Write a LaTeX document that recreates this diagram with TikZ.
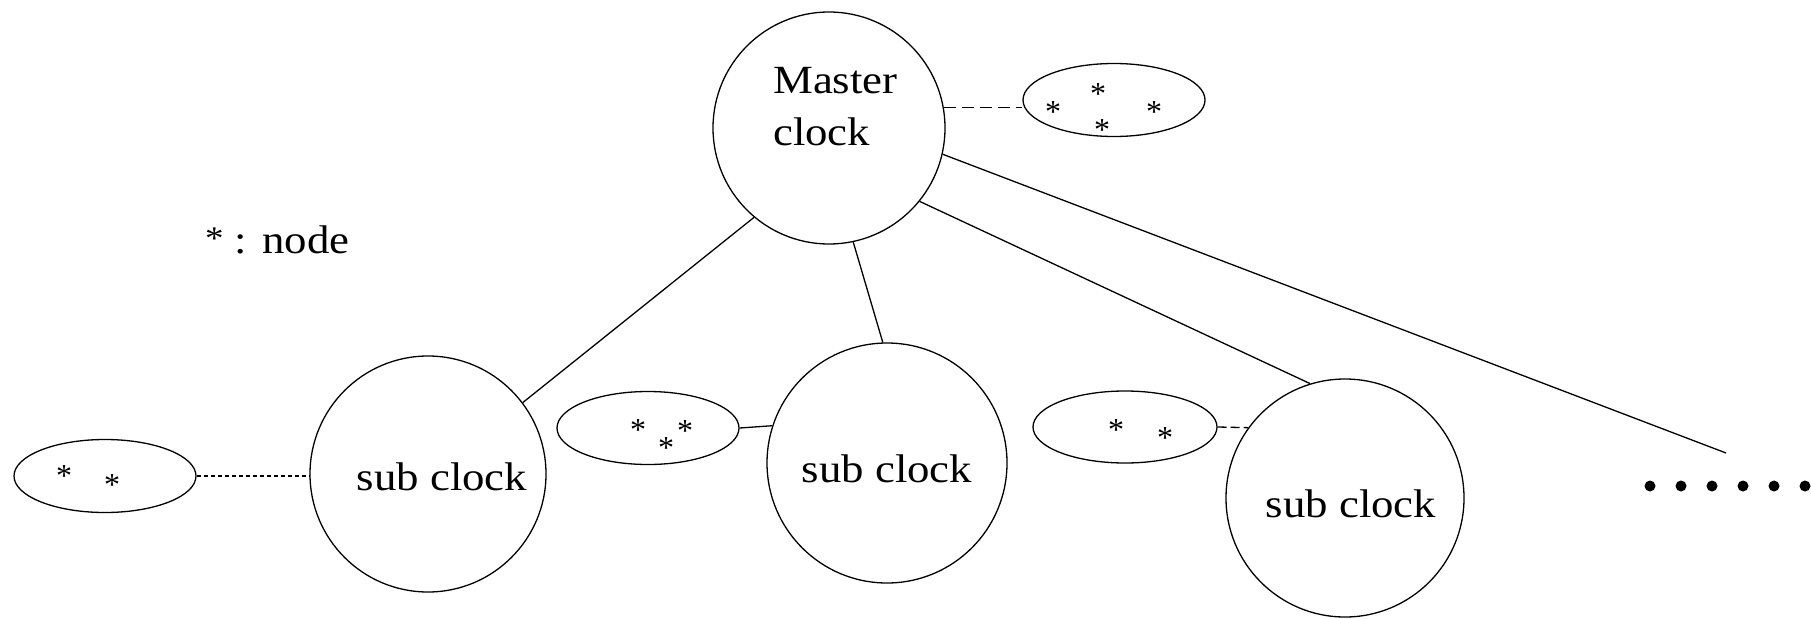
\documentclass[tikz,border=0pt]{standalone}
\usepackage{fontspec}
\setmainfont{Liberation Serif}
\usetikzlibrary{shapes.geometric}
\tikzset{
  clk/.style={draw, circle, line width=1.3pt, inner sep=0pt, minimum size=#1},
  grp/.style={draw, ellipse, line width=1.3pt, inner sep=0pt, minimum width=182pt, minimum height=73pt},
  lnk/.style={line width=1.3pt},
  star/.style={inner sep=0pt, font=\fontsize{32}{32}\selectfont, yshift=-5pt},
  lbl/.style={inner sep=0pt, font=\fontsize{40}{50}\selectfont},
}
\newcommand{\widetxt}[1]{\scalebox{1.12}[1]{#1}}
\begin{document}
\begin{tikzpicture}[x=1pt,y=-1pt]
\useasboundingbox (0,0) rectangle (1811,618);
% clocks
\node[clk=232pt] (M)  at (829,128) {};
\node[clk=236pt] (S1) at (428,474) {};
\node[clk=240pt] (S2) at (887,463) {};
\node[clk=238pt] (S3) at (1345,498) {};
% texts
\node[lbl, anchor=base west] (Mt1) at (773,93) {\widetxt{Master}};
\node[lbl, anchor=base west] (Mt2) at (773,145) {\widetxt{clock}};
\node[lbl, anchor=base] (S1t) at (442,490) {\widetxt{sub clock}};
\node[lbl, anchor=base] (S2t) at (887,482) {\widetxt{sub clock}};
\node[lbl, anchor=base] (S3t) at (1351,517) {\widetxt{sub clock}};
\node[lbl, anchor=base west] (leg) at (205,253) {\widetxt{{\fontsize{33}{33}\selectfont\raisebox{4pt}{*}} : node}};
% groups of nodes
\node[grp] (E0) at (1114,100) {};
\node[grp] (E1) at (105,476) {};
\node[grp] (E2) at (648,428) {};
\node[grp, minimum width=184pt, minimum height=72pt] (E3) at (1125,427) {};
% asterisks
\node[star] (a1) at (1053,107) {*};
\node[star] (a2) at (1098,89) {*};
\node[star] (a3) at (1154,107) {*};
\node[star] (a4) at (1102,125) {*};
\node[star] (b1) at (64,471) {*};
\node[star] (b2) at (112,480) {*};
\node[star] (c1) at (638,425) {*};
\node[star] (c2) at (666,443) {*};
\node[star] (c3) at (685,426) {*};
\node[star] (d1) at (1116,425) {*};
\node[star] (d2) at (1165,433) {*};
% tree connectors
\draw[lnk] (M.230.4) -- (S1.37);
\draw[lnk] (M.282.5) -- (S2.92.4);
\draw[lnk] (M.321) -- (S3.107.7);
\coordinate (far) at (1726,453);
\draw[lnk] (M.347.4) -- (far);
% group connectors
\draw[lnk, dash pattern=on 12pt off 6pt] (M.10) -- (M.10 -| E0.west);
\draw[lnk, dash pattern=on 4pt off 3pt] (E1.east) -- (E1.east -| S1.west);
\draw[lnk] (E2.east) -- (S2.162.5);
\draw[lnk, dash pattern=on 9pt off 4pt] (E3.east) -- (S3.144);
% continuation dots
\foreach \i in {0,...,5} \fill (1650+31*\i,486) circle (5.5pt);
\end{tikzpicture}
\end{document}
